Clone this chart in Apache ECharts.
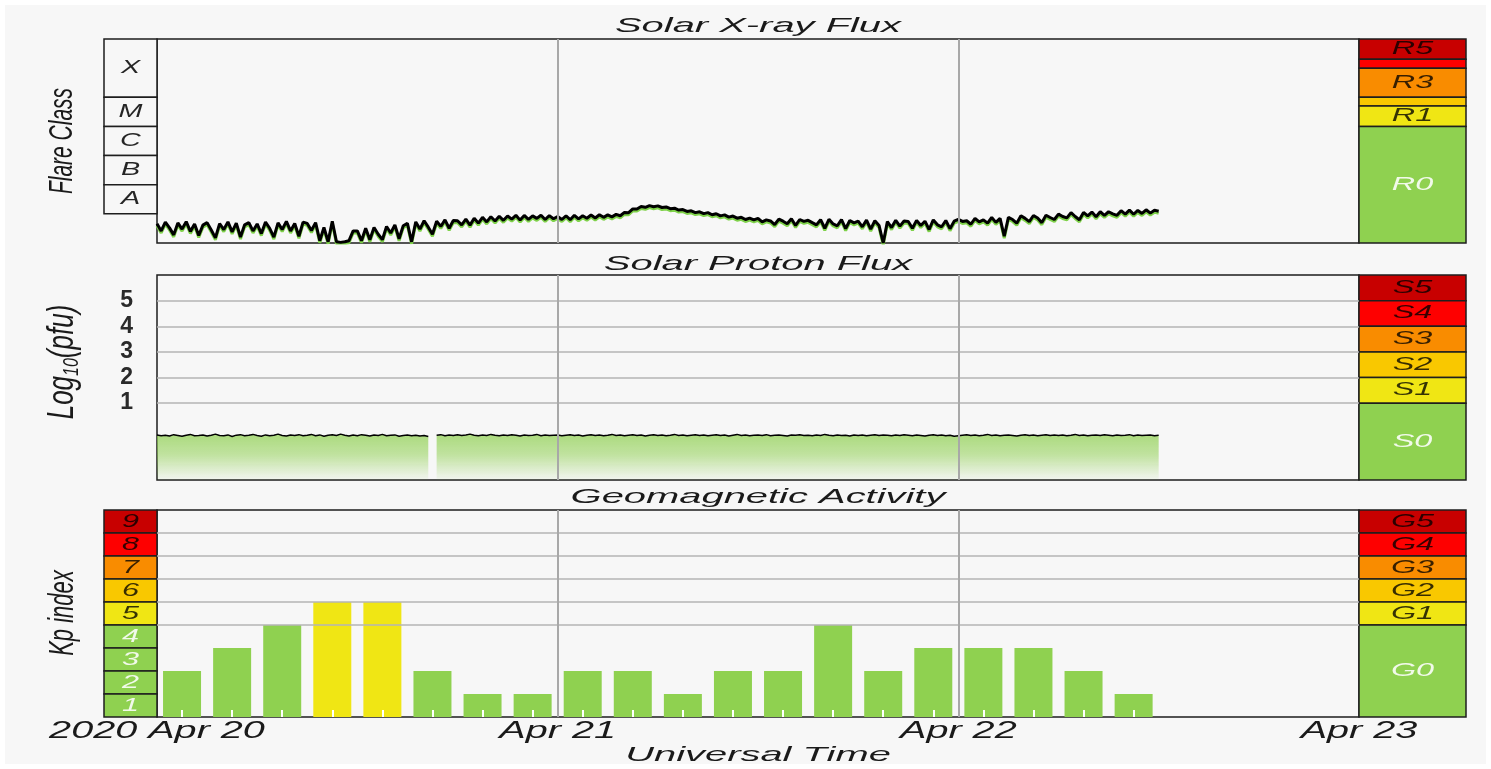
<!DOCTYPE html>
<html><head><meta charset="utf-8">
<script src="https://cdn.jsdelivr.net/npm/echarts@6/dist/echarts.min.js"></script>
<style>html,body{margin:0;padding:0;background:#fff}#c{width:1491px;height:769px;background:#f7f7f7;box-shadow:inset 0 0 0 5px #fff}</style>
</head><body><div id="c"></div>
<script>
// ---------- data ----------
const xTickHours = [0, 24, 48, 72];
const xTickLabels = ['2020 Apr 20', 'Apr 21', 'Apr 22', 'Apr 23'];
const dayLineHours = [24, 48];
const sampleStepHours = 0.25; // 15-minute samples starting 2020-04-20 00:00 UT

// GOES X-ray flux, nW/m^2 (1e-9 W/m^2)
const xrayFluxNW = [
  4.6,2.6,5.2,3.3,1.9,4.9,3.0,5.4,2.5,4.5,1.8,4.1,
  5.0,2.8,1.5,4.6,2.9,5.3,2.4,4.8,1.6,4.2,5.0,2.6,
  4.5,2.1,5.2,3.2,1.6,4.9,2.9,5.5,2.6,4.7,1.7,5.2,
  4.7,2.7,5.0,1.2,3.4,1.1,5.6,1.1,1.05,1.1,1.2,2.6,
  2.6,1.2,3.2,1.3,3.4,2.0,1.3,3.7,2.2,4.2,1.4,3.9,
  4.7,1.1,5.3,3.0,5.8,3.5,2.0,5.6,3.7,6.2,3.2,5.9,
  5.8,4.2,6.6,4.1,7.1,4.8,7.6,5.3,8.0,5.7,8.3,6.0,
  8.4,6.6,8.9,6.1,8.8,6.5,8.5,7.0,9.0,6.4,8.7,6.8,
  8.1,6.4,8.6,6.3,8.9,6.7,8.6,7.1,9.1,7.2,9.3,7.6,
  9.2,7.9,9.6,8.6,11.2,11.0,14.8,14.6,17.8,16.8,19.2,17.6,
  18.8,16.5,17.3,15.1,15.6,13.5,14.0,12.1,12.7,11.0,11.8,10.2,
  11.0,9.3,10.1,8.5,9.2,7.7,8.4,7.1,7.6,6.4,7.1,6.2,
  7.0,5.3,6.2,5.7,4.3,6.6,5.6,4.6,6.8,4.0,6.4,5.5,
  6.0,5.0,4.2,6.3,3.2,6.5,4.5,3.9,6.3,3.1,5.9,4.9,
  5.6,3.6,6.1,3.0,5.8,4.0,1.0,5.4,3.4,6.0,3.8,5.7,
  5.5,3.2,6.0,4.0,5.6,2.9,6.2,4.2,3.6,5.9,3.1,5.6,
  6.5,5.5,5.8,4.4,7.0,5.3,6.2,4.8,7.5,5.1,7.0,1.7,
  7.6,6.4,4.8,8.6,7.0,5.4,8.8,7.2,5.0,9.0,7.5,6.4,
  9.8,8.1,7.3,11.0,8.1,6.3,11.2,8.5,11.5,8.0,11.8,8.9,
  11.8,10.0,8.9,12.9,9.8,13.4,9.7,13.1,10.3,13.8,10.6,13.4,
  12.3
];

// Log10 of >=10 MeV proton flux (pfu)
const protonLog10 = [
  -0.24,-0.27,-0.25,-0.28,-0.23,-0.26,-0.29,-0.25,-0.22,-0.27,-0.26,-0.24,
  -0.28,-0.25,-0.21,-0.26,-0.27,-0.24,-0.30,-0.25,-0.23,-0.27,-0.25,-0.22,
  -0.26,-0.29,-0.24,-0.27,-0.25,-0.21,-0.26,-0.28,-0.24,-0.26,-0.23,-0.27,
  -0.25,-0.22,-0.27,-0.24,-0.29,-0.25,-0.23,-0.26,-0.21,-0.25,-0.28,-0.24,
  -0.27,-0.23,-0.25,-0.28,-0.24,-0.26,-0.22,-0.27,-0.25,-0.24,-0.29,-0.26,
  -0.24,-0.27,-0.25,-0.28,-0.26,-0.30,null,-0.25,-0.23,-0.27,-0.24,-0.26,
  -0.23,-0.26,-0.24,-0.21,-0.25,-0.27,-0.24,-0.26,-0.22,-0.25,-0.27,-0.24,
  -0.26,-0.23,-0.25,-0.28,-0.24,-0.26,-0.25,-0.22,-0.27,-0.24,-0.26,-0.25,
  -0.24,-0.27,-0.25,-0.23,-0.26,-0.24,-0.28,-0.25,-0.23,-0.26,-0.24,-0.27,
  -0.25,-0.22,-0.26,-0.24,-0.27,-0.25,-0.23,-0.26,-0.24,-0.28,-0.25,-0.23,
  -0.26,-0.24,-0.27,-0.25,-0.22,-0.26,-0.24,-0.27,-0.25,-0.23,-0.26,-0.24,
  -0.27,-0.25,-0.23,-0.26,-0.24,-0.28,-0.25,-0.22,-0.26,-0.24,-0.27,-0.25,
  -0.24,-0.26,-0.23,-0.27,-0.25,-0.24,-0.26,-0.28,-0.24,-0.25,-0.23,-0.26,
  -0.25,-0.27,-0.24,-0.26,-0.22,-0.25,-0.27,-0.24,-0.26,-0.25,-0.28,-0.24,
  -0.26,-0.24,-0.27,-0.25,-0.23,-0.26,-0.24,-0.25,-0.27,-0.24,-0.26,-0.23,
  -0.25,-0.27,-0.24,-0.26,-0.28,-0.25,-0.23,-0.26,-0.24,-0.27,-0.25,-0.29,
  -0.27,-0.25,-0.23,-0.26,-0.24,-0.27,-0.25,-0.22,-0.26,-0.24,-0.27,-0.25,
  -0.24,-0.26,-0.28,-0.25,-0.23,-0.26,-0.24,-0.27,-0.25,-0.23,-0.26,-0.24,
  -0.26,-0.24,-0.27,-0.25,-0.22,-0.26,-0.24,-0.27,-0.25,-0.24,-0.26,-0.23,
  -0.25,-0.27,-0.24,-0.26,-0.25,-0.23,-0.27,-0.24,-0.26,-0.25,-0.24,-0.27,
  -0.25
];

// Planetary Kp, 3-hour bins from 2020-04-20 00 UT
const kpValues = [2,3,4,5,5,2,1,1,2,2,1,2,2,4,2,3,3,3,2,1];
const kpBinCount = 24;

const flareClassNames = ['X','M','C','B','A'];
const flareClassEdges = [1e-2,1e-4,1e-5,1e-6,1e-7,1e-8];
const xrayGridLines = [2e-3,1e-3,1e-4,5e-5,1e-5];
const rScaleNames = ['R5','R4','R3','R2','R1','R0'];
const rScaleLabelShown = [true,false,true,false,true,true];
const rScaleEdges = [1e-2,2e-3,1e-3,1e-4,5e-5,1e-5,1e-9];
const protonTickLabels = [1,2,3,4,5];
const sScaleNames = ['S5','S4','S3','S2','S1','S0'];
const sScaleEdges = [6,5,4,3,2,1,-2];
const kpGridLines = [4,5,6,7,8];
const gScaleNames = ['G5','G4','G3','G2','G1','G0'];
const gScaleEdges = [9,8,7,6,5,4,0];
const kpColumnLabels = ['9','8','7','6','5','4','3','2','1'];
const kpColumnEdges = [9,8,7,6,5,4,3,2,1,0];

// ---------- styles ----------
const FONT = '"Liberation Sans", Arial, Helvetica, sans-serif';
const scaleColors = ['#c80000','#fe0000','#f98c00','#f9c800','#f0e614','#8fd150'];
const kpColumnColors = ['#c80000','#fe0000','#f98c00','#f9c800','#f0e614','#8fd150','#8fd150','#8fd150','#8fd150'];
const DARK_LABEL = 'rgba(0,0,0,0.78)';
const LIGHT_LABEL = 'rgba(255,255,255,0.88)';
const scaleLabelColors = [DARK_LABEL,DARK_LABEL,DARK_LABEL,DARK_LABEL,DARK_LABEL,LIGHT_LABEL];
function kpColor(v){ return v>=9?'#c80000':v>=8?'#fe0000':v>=7?'#f98c00':v>=6?'#f9c800':v>=5?'#f0e614':'#8fd150'; }

function bands(edges, colors){
  return colors.map((c,i)=>[
    {yAxis:edges[i], itemStyle:{color:c, borderColor:'#1e1e1e', borderWidth:1.5}},
    {yAxis:edges[i+1]}
  ]);
}
// centred text labels placed through the axes (custom series), horizontally widened
function textSeries(xi, yi, items, font, sx, dy){
  return {type:'custom', xAxisIndex:xi, yAxisIndex:yi, silent:true, z:8, clip:false,
    data: items.map(it=>[it.x, it.y]),
    renderItem: (params, api) => {
      const it = items[params.dataIndex];
      const p = api.coord([api.value(0), api.value(1)]);
      return {type:'text', x:p[0], y:p[1] + (dy||0), scaleX:sx,
        style:{text:it.text, fill:it.color, font:font, align:'center', verticalAlign:'middle'}};
    }};
}
function bandLabels(names, edges, colors, shown, logMid){
  const out = [];
  names.forEach((n,i)=>{
    if (shown && !shown[i]) return;
    const y = logMid ? Math.sqrt(edges[i]*edges[i+1]) : (edges[i]+edges[i+1])/2;
    out.push({x:0.5, y:y, text:n, color:colors[i]});
  });
  return out;
}
function holder(xi, yi, markArea, markLine, z){
  const s = {type:'line', xAxisIndex:xi, yAxisIndex:yi, data:[], silent:true, z:z||2};
  if (markArea) s.markArea = {silent:true, label:{show:false}, data:markArea};
  if (markLine) s.markLine = {silent:true, symbol:'none', animation:false, label:{show:false}, data:markLine};
  return s;
}
const hGrid = v => ({yAxis:v, lineStyle:{color:'#b5b5b5', width:1.5, type:'solid'}});
const vGrid = h => ({xAxis:h, lineStyle:{color:'#a8a8a8', width:2, type:'solid'}});

const gridBase = {show:true, borderColor:'#1e1e1e', borderWidth:1.5, backgroundColor:'transparent'};
const grids = [
  Object.assign({}, gridBase, {left:157, top:39, width:1202, height:204}),
  {show:false, left:104, top:39, width:53, height:204},
  {show:false, left:1359, top:39, width:107, height:204},
  Object.assign({}, gridBase, {left:157, top:275, width:1202, height:205}),
  {show:false, left:1359, top:275, width:107, height:205},
  Object.assign({}, gridBase, {left:157, top:510, width:1202, height:207}),
  {show:false, left:104, top:510, width:53, height:207},
  {show:false, left:1359, top:510, width:107, height:207}
];
const hoursAxis = gi => ({
  type:'value', gridIndex:gi, min:0, max:72, interval:24,
  axisLine:{show:false}, axisTick:{show:false}, splitLine:{show:false}, axisLabel:{show:false}
});
const unitAxis = gi => ({type:'value', gridIndex:gi, min:0, max:1, show:false});
const kpCats = Array.from({length:kpBinCount}, (_,i)=>String(i));

const BAND_FONT = 'italic 18px ' + FONT;
const option = {
  animation:false,
  backgroundColor:'transparent',
  grid: grids,
  xAxis: [
    hoursAxis(0), unitAxis(1), unitAxis(2), hoursAxis(3), unitAxis(4),
    hoursAxis(5), unitAxis(6), unitAxis(7),
    {type:'category', gridIndex:5, position:'bottom', data:kpCats, boundaryGap:true, z:10,
     axisLine:{show:false, onZero:false}, axisLabel:{show:false}, splitLine:{show:false},
     axisTick:{show:true, inside:true, alignWithLabel:true, length:7,
       interval:(idx) => idx < kpValues.length,
       lineStyle:{color:'#ffffff', width:2}}}
  ],
  yAxis: [
    {type:'log', logBase:10, gridIndex:0, min:1e-9, max:1e-2, show:false},
    {type:'log', logBase:10, gridIndex:1, min:1e-9, max:1e-2, show:false},
    {type:'log', logBase:10, gridIndex:2, min:1e-9, max:1e-2, show:false},
    {type:'value', gridIndex:3, min:-2, max:6, interval:1,
     axisLine:{show:false}, axisTick:{show:false}, splitLine:{show:false},
     axisLabel:{margin:24, fontSize:23, fontWeight:'bold', fontFamily:FONT, color:'#2a2a2a',
       formatter: v => protonTickLabels.indexOf(v)>=0 ? String(v) : ''}},
    {type:'value', gridIndex:4, min:-2, max:6, show:false},
    {type:'value', gridIndex:5, min:0, max:9, show:false},
    {type:'value', gridIndex:6, min:0, max:9, show:false},
    {type:'value', gridIndex:7, min:0, max:9, show:false}
  ],
  series: [
    holder(0,0,null, xrayGridLines.map(hGrid).concat(dayLineHours.map(vGrid)), 1),
    {type:'line', name:'X-ray flux', xAxisIndex:0, yAxisIndex:0, z:3, showSymbol:false, silent:true,
     data: xrayFluxNW.map((v,i)=>[i*sampleStepHours, v*1e-9]),
     lineStyle:{color:'#000', width:3, shadowColor:'#7fd24a', shadowOffsetY:2, shadowBlur:0}},
    holder(1,1, bands(flareClassEdges, flareClassNames.map(()=> '#f7f7f7'))),
    textSeries(1,1, bandLabels(flareClassNames, flareClassEdges, flareClassNames.map(()=> 'rgba(0,0,0,0.85)'), null, true), BAND_FONT, 1.6),
    holder(2,2, bands(rScaleEdges, scaleColors)),
    textSeries(2,2, bandLabels(rScaleNames, rScaleEdges, scaleLabelColors, rScaleLabelShown, true), BAND_FONT, 1.8),
    {type:'line', name:'Proton flux', xAxisIndex:3, yAxisIndex:3, z:2, showSymbol:false, silent:true,
     data: protonLog10.map((v,i)=>[i*sampleStepHours, v]),
     lineStyle:{color:'#000', width:1.5},
     areaStyle:{origin:'start', color:new echarts.graphic.LinearGradient(0,0,0,1,[
       {offset:0, color:'rgba(139,206,74,1)'}, {offset:0.45, color:'rgba(139,206,74,0.72)'},
       {offset:1, color:'rgba(139,206,74,0.05)'}])}},
    holder(3,3,null, protonTickLabels.map(hGrid).concat(dayLineHours.map(vGrid)), 5),
    holder(4,4, bands(sScaleEdges, scaleColors)),
    textSeries(4,4, bandLabels(sScaleNames, sScaleEdges, scaleLabelColors, null, false), BAND_FONT, 1.8),
    holder(5,5,null, kpGridLines.map(hGrid).concat(dayLineHours.map(vGrid)), 1),
    {type:'bar', name:'Kp', xAxisIndex:8, yAxisIndex:5, barWidth:38, z:2, silent:true,
     data: kpValues.map(v=>({value:v, itemStyle:{color:kpColor(v)}}))},
    textSeries(5,5, xTickHours.map((h,i)=>({x:h, y:0, text:xTickLabels[i], color:'#1a1a1a'})),
      'italic 24px ' + FONT, 1.65, 14),
    holder(6,6, bands(kpColumnEdges, kpColumnColors)),
    textSeries(6,6, bandLabels(kpColumnLabels, kpColumnEdges, kpColumnLabels.map(l => Number(l)>=5 ? DARK_LABEL : LIGHT_LABEL), null, false), BAND_FONT, 1.7),
    holder(7,7, bands(gScaleEdges, scaleColors)),
    textSeries(7,7, bandLabels(gScaleNames, gScaleEdges, scaleLabelColors, null, false), BAND_FONT, 1.8)
  ],
  graphic: [
    ...[['Solar X-ray Flux',26],['Solar Proton Flux',264],['Geomagnetic Activity',497],['Universal Time',755]].map(([t,y])=>({
      type:'text', x:758, y:y, scaleX:1.9, silent:true,
      style:{text:t, font:'italic 21px '+FONT, fill:'#1a1a1a', align:'center', verticalAlign:'middle'}})),
    {type:'text', x:63, y:141, rotation:Math.PI/2, scaleY:1.6, silent:true,
     style:{text:'Flare Class', font:'italic 21px '+FONT, fill:'#1a1a1a', align:'center', verticalAlign:'middle'}},
    {type:'text', x:63, y:362, rotation:Math.PI/2, scaleY:1.4, silent:true,
     style:{text:'{a|Log}{b|10}{a|(pfu)}', align:'center', verticalAlign:'middle',
       rich:{a:{font:'italic 26px '+FONT, fill:'#1a1a1a'}, b:{font:'italic 16px '+FONT, fill:'#1a1a1a', padding:[12,0,0,0]}}}},
    {type:'text', x:63, y:613, rotation:Math.PI/2, scaleY:1.6, silent:true,
     style:{text:'Kp index', font:'italic 22px '+FONT, fill:'#1a1a1a', align:'center', verticalAlign:'middle'}}
  ]
};
const chart = echarts.init(document.getElementById('c'));
chart.setOption(option);
</script>
</body></html>
